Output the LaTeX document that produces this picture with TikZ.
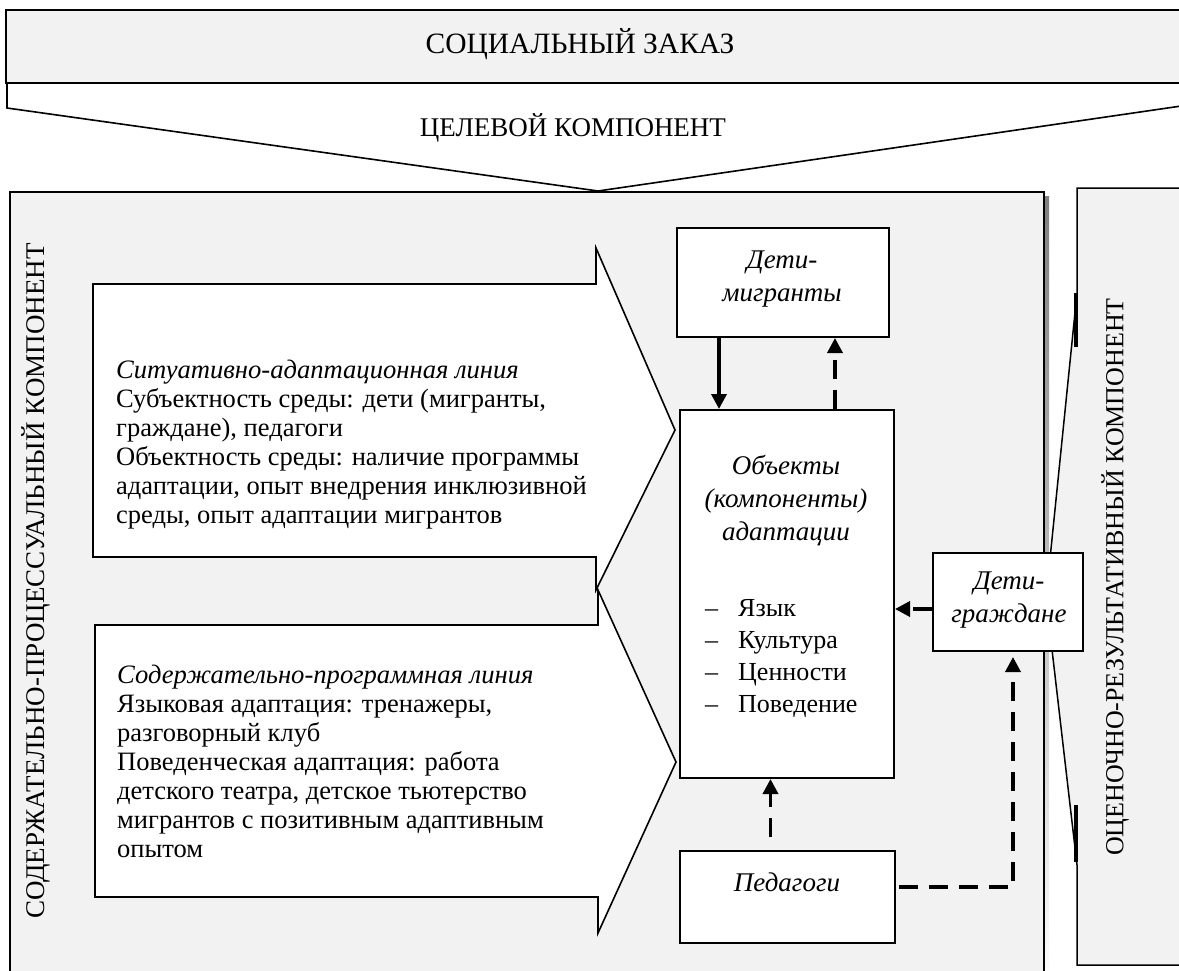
\documentclass[tikz,border=0pt]{standalone}
\usepackage{fontspec}
\setmainfont{Liberation Serif}
\usetikzlibrary{arrows.meta,calc}
\definecolor{panel}{RGB}{242,242,242}
\definecolor{shade}{RGB}{160,180,190}
\tikzset{
  panelbox/.style={draw=black, line width=2pt, fill=panel},
  whitebox/.style={draw=black, line width=2pt, fill=white, inner sep=0pt},
  capsfont/.style={font=\fontsize{27}{29}\selectfont, inner sep=0pt},
  bodyfont/.style={font=\fontsize{26.5}{29}\selectfont, inner sep=0pt, align=left},
  itfont/.style={font=\fontsize{27}{33}\selectfont\itshape, inner sep=0pt, align=center},
  solidarrow/.style={line width=3.5pt, -{Triangle[length=15pt,width=15pt]}},
  dasharrow/.style={solidarrow, dash pattern=on 19pt off 11pt},
  outline/.style={draw=black, line width=1.6pt, fill=white, line join=miter}
}
\newcommand{\headit}[1]{{\fontsize{26.6}{29}\selectfont\itshape #1}}
\begin{document}
\begin{tikzpicture}[x=1pt,y=-1pt]
\useasboundingbox (0,0) rectangle (1179,970);
\clip (0,0) rectangle (1179,970);
% target component (downward pointer)
\draw[outline] (7,60) -- (7,108) -- (598,191) -- (1195,104) -- (1195,60);
% social order band
\draw[panelbox] (6,10) rectangle (1195,83);
\node[capsfont, font=\fontsize{29.5}{30}\selectfont, anchor=base] (social) at (580,53) {СОЦИАЛЬНЫЙ ЗАКАЗ};
\node[capsfont, anchor=base] (target) at (573,136) {ЦЕЛЕВОЙ КОМПОНЕНТ};
% main process panel
\fill[shade] (14,196) rectangle (1049,995);
\draw[panelbox, line width=2.5pt] (10,192) rectangle (1044,995);
% evaluation panel with pointer
\draw[panelbox, line width=1.5pt] (1195,188) -- (1077,188) -- (1077,293) -- (1046,598) -- (1077,865) -- (1077,965) -- (1195,965);
\draw[line width=4pt] (1076,293) -- (1076,347);
\draw[line width=4pt] (1076,805) -- (1076,862);
\node[font=\fontsize{26}{29}\selectfont, inner sep=0pt, rotate=90] (eval) at (1115,577) {ОЦЕНОЧНО-РЕЗУЛЬТАТИВНЫЙ КОМПОНЕНТ};
\node[capsfont, rotate=90] (proc) at (36,581) {СОДЕРЖАТЕЛЬНО-ПРОЦЕССУАЛЬНЫЙ КОМПОНЕНТ};
% left block arrows
\draw[outline] (93,284) -- (596,284) -- (596,248) -- (675,430) -- (596,590) -- (596,557) -- (93,557) -- cycle;
\draw[outline] (95,625) -- (598,625) -- (598,590) -- (676,762) -- (598,933) -- (598,897) -- (95,897) -- cycle;
\node[bodyfont, anchor=north west] (line1) at (116,360) {\headit{Ситуативно-адаптационная линия}\\
Субъектность среды: дети (мигранты,\\
граждане), педагоги\\
Объектность среды: наличие программы\\
адаптации, опыт внедрения инклюзивной\\
среды, опыт адаптации мигрантов};
\node[bodyfont, anchor=north west] (line2) at (117,665) {\headit{Содержательно-программная линия}\\
Языковая адаптация: тренажеры,\\
разговорный клуб\\
Поведенческая адаптация: работа\\
детского театра, детское тьютерство\\
мигрантов с позитивным адаптивным\\
опытом};
% boxes
\node[whitebox, minimum width=212pt, minimum height=109pt, anchor=north west] (dm) at (676,227) {};
\node[itfont, anchor=north] (dmt) at (782,251) {Дети-\\мигранты};
\node[whitebox, minimum width=214pt, minimum height=368pt, anchor=north west] (obj) at (679,409) {};
\node[itfont, anchor=north] (objt) at (786,455) {Объекты\\(компоненты)\\адаптации};
\node[font=\fontsize{26}{32}\selectfont, inner sep=0pt, align=left, anchor=north west] (objl) at (705,599) {\makebox[33pt][l]{–}Язык\\\makebox[33pt][l]{–}Культура\\\makebox[33pt][l]{–}Ценности\\\makebox[33pt][l]{–}Поведение};
\node[whitebox, minimum width=150pt, minimum height=98pt, anchor=north west] (dg) at (932,552) {};
\node[itfont, anchor=north] (dgt) at (1009,572) {Дети-\\граждане};
\node[whitebox, minimum width=215pt, minimum height=92pt, anchor=north west] (ped) at (679,850) {};
\node[itfont, anchor=north] (pedt) at (787,873) {Педагоги};
% connectors
\draw[solidarrow] ([xshift=-64pt]dm.south) -- ([xshift=-64pt]dm.south |- obj.north);
\draw[dasharrow] ([xshift=48pt]obj.north) -- ([xshift=48pt]obj.north |- dm.south);
\draw[dasharrow] ([xshift=-17pt,yshift=13pt]ped.north) -- ([xshift=-17pt]ped.north |- obj.south);
\draw[dasharrow] ([yshift=-7pt]dg.west) -- ([yshift=-7pt]dg.west -| obj.east);
\draw[dasharrow] ([xshift=3pt,yshift=10pt]ped.east) -| ([xshift=5pt,yshift=-5pt]dg.south);
\end{tikzpicture}
\end{document}
